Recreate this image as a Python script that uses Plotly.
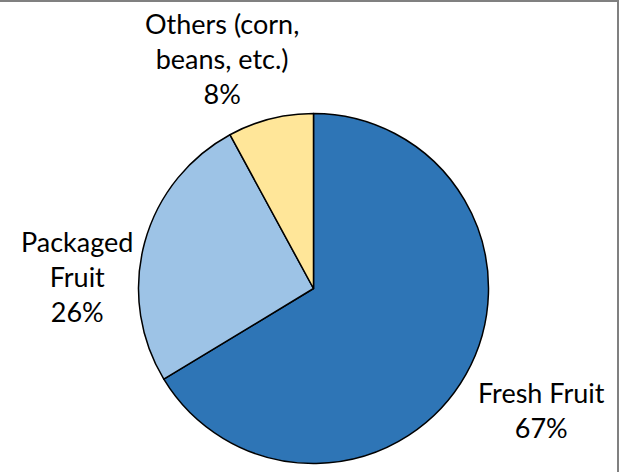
import plotly.graph_objects as go

# Sales share by product category
categories = ["Fresh Fruit", "Packaged Fruit", "Others (corn, beans, etc.)"]
label_lines = ["Fresh Fruit", "Packaged<br>Fruit", "Others (corn,<br>beans, etc.)"]
shares = [67, 26, 8]
colors = ["#2E75B6", "#9DC3E6", "#FFE699"]

W, H = 619, 472
cx, cy, r = 313.5, 288.5, 175  # pie centre and radius in pixels

fig = go.Figure(
    go.Pie(
        labels=categories,
        values=shares,
        sort=False,
        direction="clockwise",
        rotation=0,
        marker=dict(colors=colors, line=dict(color="black", width=1.5)),
        textinfo="none",
        hoverinfo="label+value",
        showlegend=False,
        domain=dict(
            x=[(cx - r) / W, (cx + r) / W],
            y=[1 - (cy + r) / H, 1 - (cy - r) / H],
        ),
    )
)

# label centres (pixels) for each category
label_pos = [(541, 410), (77, 276), (222, 58)]
for text, val, (px, py) in zip(label_lines, shares, label_pos):
    fig.add_annotation(
        text=f"{text}<br>{val}%",
        x=px / W, y=1 - py / H, xref="paper", yref="paper",
        xanchor="center", yanchor="middle", showarrow=False,
        font=dict(family="Lato", size=27, color="black"),
    )

# frame edges along the top and right
fig.add_shape(type="line", xref="paper", yref="paper", x0=0, x1=1, y0=1, y1=1,
              line=dict(color="#808080", width=4))
fig.add_shape(type="line", xref="paper", yref="paper", x0=1, x1=1, y0=0, y1=1,
              line=dict(color="#808080", width=4))

fig.update_layout(
    width=W, height=H,
    margin=dict(l=0, r=0, t=0, b=0),
    paper_bgcolor="white", plot_bgcolor="white",
)

fig.write_html("out.html")
